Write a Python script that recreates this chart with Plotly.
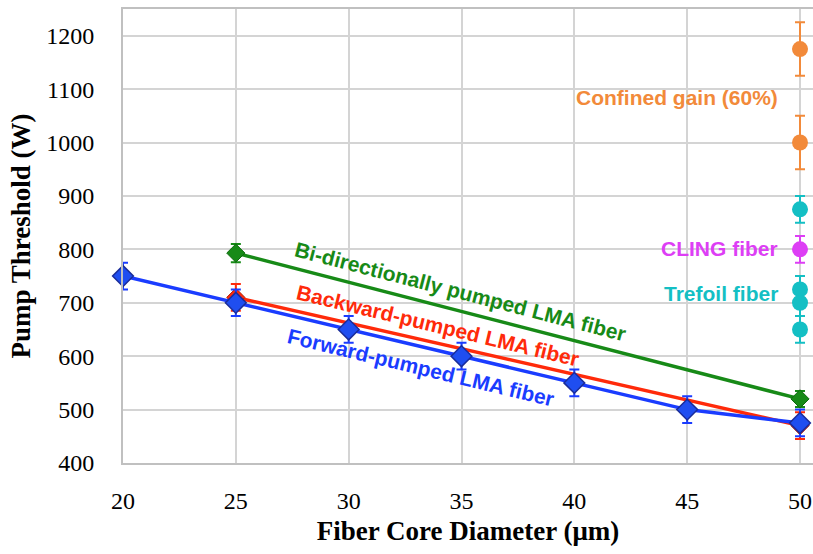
import plotly.graph_objects as go

# Fiber core diameters (um)
core_lma = [20, 25, 30, 35, 40, 45, 50]
core_pair = [25, 50]
core_single = [50]

# Pump thresholds (W) and error bars
forward_thr = [750, 700, 650, 600, 550, 500, 475]
forward_err = [25, 25, 25, 25, 25, 25, 25]
backward_thr = [710, 470]
backward_err = [25, 25]
bidir_thr = [793, 520]
bidir_err = [17, 15]
confined_thr = [1175, 1000]
confined_err = [50, 50]
cling_thr = [800]
cling_err = [25]
trefoil_thr = [875, 725, 700, 650]
trefoil_err = [25, 25, 25, 25]

x_ticks = [20, 25, 30, 35, 40, 45, 50]
y_ticks = [400, 500, 600, 700, 800, 900, 1000, 1100, 1200]

C_BLUE = "#1a3cff"
C_RED = "#ff2a0a"
C_GREEN = "#178a17"
C_ORANGE = "#f28a3a"
C_CYAN = "#14bfc4"
C_MAGENTA = "#dd3ef5"

fig = go.Figure()


def err(vals, color):
    return dict(type="data", array=vals, visible=True, color=color,
                thickness=2, width=5)


# Backward-pumped (drawn under forward)
fig.add_trace(go.Scatter(
    x=core_pair, y=backward_thr, mode="lines+markers",
    line=dict(color=C_RED, width=3.5),
    marker=dict(symbol="diamond", size=14, color=C_RED,
                line=dict(color="#b01a00", width=1)),
    error_y=err(backward_err, C_RED), cliponaxis=False))

# Bi-directionally pumped
fig.add_trace(go.Scatter(
    x=core_pair, y=bidir_thr, mode="lines+markers",
    line=dict(color=C_GREEN, width=3.5),
    marker=dict(symbol="diamond", size=14, color=C_GREEN,
                line=dict(color="#0f6a0f", width=1)),
    error_y=err(bidir_err, C_GREEN), cliponaxis=False))

# Forward-pumped
fig.add_trace(go.Scatter(
    x=core_lma, y=forward_thr, mode="lines+markers",
    line=dict(color=C_BLUE, width=3.5),
    marker=dict(symbol="diamond", size=16, color="#1f4ef0",
                line=dict(color="#1a2c9a", width=1.5)),
    error_y=err(forward_err, C_BLUE), cliponaxis=False))

# Single-point fiber designs at 50 um
for ys, es, col in [(confined_thr, confined_err, C_ORANGE),
                    (cling_thr, cling_err, C_MAGENTA),
                    (trefoil_thr, trefoil_err, C_CYAN)]:
    fig.add_trace(go.Scatter(
        x=core_single * len(ys), y=ys, mode="markers",
        marker=dict(symbol="circle", size=16, color=col),
        error_y=err(es, col), cliponaxis=False))

ann_font = "Liberation Sans"
annotations = [
    dict(text="<b>Bi-directionally pumped LMA fiber</b>", x=34.95, y=722,
         textangle=14.5, color=C_GREEN),
    dict(text="<b>Backward-pumped LMA fiber</b>", x=33.96, y=657,
         textangle=13.5, color=C_RED),
    dict(text="<b>Forward-pumped LMA fiber</b>", x=33.2, y=578,
         textangle=13.5, color=C_BLUE),
]
for a in annotations:
    fig.add_annotation(x=a["x"], y=a["y"], xref="x", yref="y",
                       text=a["text"], textangle=a["textangle"],
                       showarrow=False,
                       font=dict(family=ann_font, size=21, color=a["color"]))

for text, y, col in [("Confined gain (60%)", 1085, C_ORANGE),
                     ("CLING fiber", 802, C_MAGENTA),
                     ("Trefoil fiber", 718, C_CYAN)]:
    fig.add_annotation(x=49.1, y=y, xref="x", yref="y", text="<b>%s</b>" % text,
                       showarrow=False, xanchor="right",
                       font=dict(family=ann_font, size=21, color=col))

title_font = "Liberation Serif"
tick_font = "Times New Roman"
fig.update_layout(
    width=813, height=554,
    margin=dict(l=123, r=0, t=9, b=91),
    paper_bgcolor="white", plot_bgcolor="white",
    showlegend=False,
    font=dict(family=title_font, size=24, color="black"),
)
fig.update_xaxes(
    range=[20, 50.576], tickmode="array", tickvals=x_ticks,
    showgrid=True, gridcolor="#d4d4d4", gridwidth=1.5,
    showline=True, linecolor="#c0c0c0", linewidth=2, mirror=True,
    ticks="outside", ticklen=15, tickcolor="rgba(0,0,0,0)",
    zeroline=False,
    tickfont=dict(family=tick_font, size=24, color="black"),
    title_text="<b>Fiber Core Diameter (μm)</b>",
    title_font=dict(family=title_font, size=27, color="black"),
    title_standoff=8,
)
fig.update_yaxes(
    range=[400, 1250], tickmode="array", tickvals=y_ticks,
    showgrid=True, gridcolor="#d4d4d4", gridwidth=1.5,
    showline=True, linecolor="#c0c0c0", linewidth=2,
    ticks="outside", ticklen=22, tickcolor="rgba(0,0,0,0)",
    zeroline=False,
    tickfont=dict(family=tick_font, size=24, color="black"),
    title_text="<b>Pump Threshold (W)</b>",
    title_font=dict(family=title_font, size=27, color="black"),
    title_standoff=8,
)

fig.write_html("out.html")
